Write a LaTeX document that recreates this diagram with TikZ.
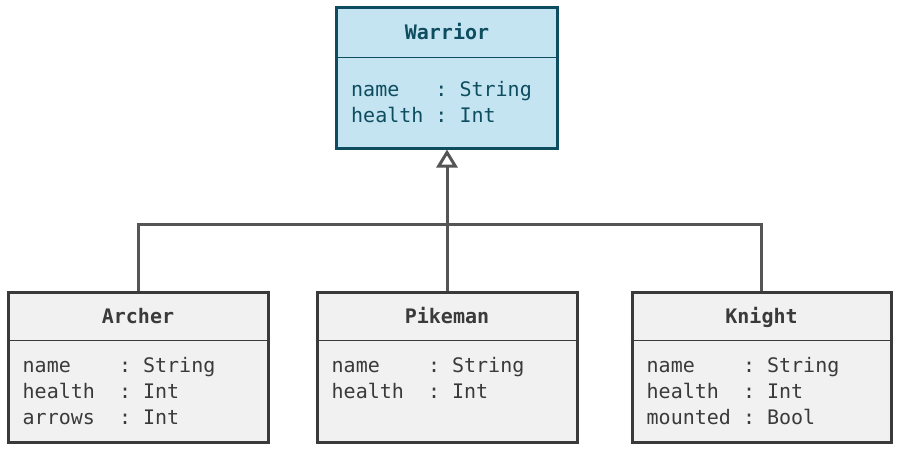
\documentclass[tikz,border=0pt]{standalone}
\usepackage{fontspec}
\setmonofont{DejaVu Sans Mono}
\usetikzlibrary{arrows.meta,positioning}
\definecolor{tealx}{HTML}{0E4D5F}
\definecolor{tealbg}{HTML}{C3E4F0}
\definecolor{greyx}{HTML}{3A3A3A}
\definecolor{greybg}{HTML}{F1F1F1}
\definecolor{wire}{HTML}{555555}
\tikzset{
  cls/.style={draw=greyx,line width=3pt,fill=greybg,minimum height=150pt,inner sep=0pt},
  supcls/.style={cls,draw=tealx,fill=tealbg,minimum width=221pt,minimum height=141pt},
  ttl/.style={font=\ttfamily\bfseries\fontsize{20}{26}\selectfont,anchor=base,inner sep=0pt},
  attr/.style={font=\ttfamily\fontsize{20}{26}\selectfont,anchor=base west,inner sep=0pt},
  inh/.style={-{Triangle[open,length=18pt,width=21pt]},line width=3pt,wire},
  wl/.style={line width=3pt,wire}
}
\begin{document}
\begin{tikzpicture}[x=1pt,y=-1pt]
\useasboundingbox (0,0) rectangle (900,450);
% class boxes
\node[supcls] (warrior) at (447,77.5) {};
\node[cls,minimum width=260pt] (archer) at (138,367) {};
\node[cls,minimum width=260pt] (pikeman) at (447,367) {};
\node[cls,minimum width=259pt] (knight) at (761.5,367) {};
% separators
\draw[tealx,line width=1.2pt] ([yshift=-52pt]warrior.north west) -- ([yshift=-52pt]warrior.north east);
\foreach \n in {archer,pikeman,knight}
  \draw[greyx,line width=1.2pt] ([yshift=-50pt]\n.north west) -- ([yshift=-50pt]\n.north east);
% titles
\node[ttl,text=tealx] (wtitle) at ([yshift=-34pt]warrior.north) {Warrior};
\node[ttl,text=greyx] (atitle) at ([yshift=-33pt]archer.north) {Archer};
\node[ttl,text=greyx] (ptitle) at ([yshift=-33pt]pikeman.north) {Pikeman};
\node[ttl,text=greyx] (ktitle) at ([yshift=-33pt]knight.north) {Knight};
% attributes
\node[attr,text=tealx] (wa1) at ([xshift=16pt,yshift=-91pt]warrior.north west) {name~~~:~String};
\node[attr,text=tealx] (wa2) at ([xshift=16pt,yshift=-117pt]warrior.north west) {health~:~Int};
\node[attr,text=greyx] (aa1) at ([xshift=16pt,yshift=-82pt]archer.north west) {name~~~~:~String};
\node[attr,text=greyx] (aa2) at ([xshift=16pt,yshift=-108pt]archer.north west) {health~~:~Int};
\node[attr,text=greyx] (aa3) at ([xshift=16pt,yshift=-134pt]archer.north west) {arrows~~:~Int};
\node[attr,text=greyx] (pa1) at ([xshift=16pt,yshift=-82pt]pikeman.north west) {name~~~~:~String};
\node[attr,text=greyx] (pa2) at ([xshift=16pt,yshift=-108pt]pikeman.north west) {health~~:~Int};
\node[attr,text=greyx] (ka1) at ([xshift=16pt,yshift=-82pt]knight.north west) {name~~~~:~String};
\node[attr,text=greyx] (ka2) at ([xshift=16pt,yshift=-108pt]knight.north west) {health~~:~Int};
\node[attr,text=greyx] (ka3) at ([xshift=16pt,yshift=-134pt]knight.north west) {mounted~:~Bool};
% inheritance
\coordinate (bus) at (pikeman.north |- 0,224);
\draw[wl] (archer.north) |- (bus) -| (knight.north);
\draw[inh] (pikeman.north) -- (warrior.south);
\end{tikzpicture}
\end{document}
